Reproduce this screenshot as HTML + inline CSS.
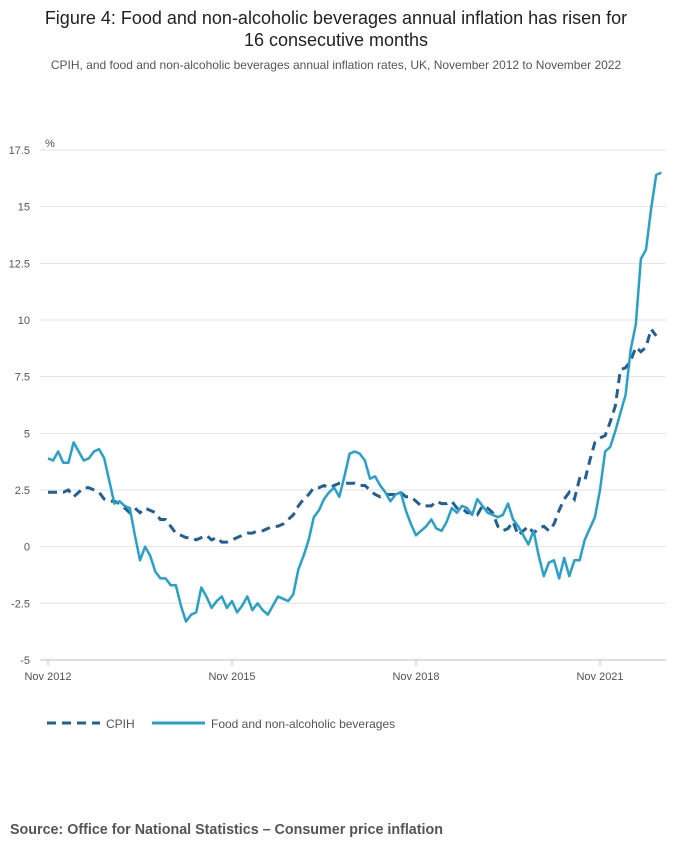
<!DOCTYPE html>
<html><head><meta charset="utf-8"><style>
body{margin:0;width:700px;height:857px;background:#fff;font-family:"Liberation Sans",sans-serif;overflow:hidden}
svg{position:absolute;left:0;top:0}
</style></head><body>
<svg width="700" height="857">
<text x="336" y="24" text-anchor="middle" font-size="18" fill="#222">Figure 4: Food and non-alcoholic beverages annual inflation has risen for</text>
<text x="336" y="46" text-anchor="middle" font-size="18" fill="#222">16 consecutive months</text>
<text x="336" y="69" text-anchor="middle" font-size="12" fill="#555">CPIH, and food and non-alcoholic beverages annual inflation rates, UK, November 2012 to November 2022</text>
<text x="45" y="147" font-size="11" fill="#555">%</text>
<g id="grid"></g><g id="series"></g>
<g transform="translate(47,723)">
<line x1="0" y1="0" x2="53" y2="0" stroke="#206095" stroke-width="3" stroke-dasharray="9,6"/>
<text x="59" y="5" font-size="12" fill="#555">CPIH</text>
<line x1="105" y1="0" x2="158" y2="0" stroke="#27a0cc" stroke-width="3"/>
<text x="164" y="5" font-size="12" fill="#555">Food and non-alcoholic beverages</text>
</g>
<text x="10" y="834" font-size="14.3" font-weight="bold" fill="#555">Source: Office for National Statistics – Consumer price inflation</text>
</svg>
<script>
const yTicks=[-5,-2.5,0,2.5,5,7.5,10,12.5,15,17.5];
const yTickLabels=["-5","-2.5","0","2.5","5","7.5","10","12.5","15","17.5"];
const xTickIdx=[0,36,72,108];
const xTickLabels=["Nov 2012","Nov 2015","Nov 2018","Nov 2021"];
const food=[3.9,3.8,4.2,3.7,3.7,4.6,4.2,3.8,3.9,4.2,4.3,3.9,2.9,1.9,2.0,1.8,1.7,0.5,-0.6,0.0,-0.4,-1.1,-1.4,-1.4,-1.7,-1.7,-2.6,-3.3,-3.0,-2.9,-1.8,-2.2,-2.7,-2.4,-2.2,-2.7,-2.4,
-2.9,-2.6,-2.2,-2.8,-2.5,-2.8,-3.0,-2.6,-2.2,-2.3,-2.4,-2.1,-1.0,-0.4,0.3,1.3,1.6,2.1,2.4,2.6,2.2,3.1,4.1,4.2,4.1,3.8,3.0,3.1,2.7,2.4,2.0,2.3,2.4,1.6,1.0,0.5,
0.7,0.9,1.2,0.8,0.7,1.1,1.7,1.5,1.8,1.7,1.4,2.1,1.8,1.5,1.4,1.3,1.4,1.9,1.2,0.9,0.5,0.1,0.7,-0.4,-1.3,-0.7,-0.6,-1.4,-0.5,-1.3,-0.6,-0.6,0.3,0.8,1.3,2.5,
4.2,4.4,5.1,5.9,6.7,8.7,9.8,12.7,13.1,14.9,16.4,16.5];
const cpih=[2.4,2.4,2.4,2.4,2.5,2.2,2.4,2.6,2.6,2.5,2.4,2.1,2.0,2.0,1.9,1.7,1.5,1.7,1.5,1.7,1.6,1.5,1.2,1.2,0.9,0.6,0.5,0.4,0.4,0.3,0.4,0.5,0.3,0.4,0.2,0.2,0.3,
0.4,0.5,0.6,0.6,0.7,0.7,0.8,0.9,0.9,1.0,1.2,1.4,1.8,2.1,2.3,2.6,2.6,2.7,2.6,2.7,2.8,2.8,2.8,2.8,2.7,2.7,2.5,2.3,2.2,2.3,2.3,2.3,2.4,2.2,2.2,
2.0,1.8,1.8,1.8,2.0,1.9,1.9,2.0,1.7,1.7,1.5,1.5,1.4,1.8,1.7,1.5,0.9,0.7,0.8,1.1,0.5,0.7,0.9,0.6,0.8,0.9,0.7,1.0,1.6,2.1,2.4,2.1,3.0,2.9,3.8,4.6,
4.8,4.9,5.5,6.2,7.8,7.9,8.2,8.8,8.6,8.8,9.6,9.3];
const NS="http://www.w3.org/2000/svg";
const xS=i=>48+i*184/36;
const yS=v=>660-(v+5)*510/22.5;
const grid=document.getElementById('grid'),ser=document.getElementById('series');
function mk(tag,attrs,parent){const e=document.createElementNS(NS,tag);for(const k in attrs)e.setAttribute(k,attrs[k]);parent.appendChild(e);return e;}
yTicks.forEach((v,i)=>{
  if(v>-5){const l=mk('line',{x1:40,x2:666,y1:yS(v),y2:yS(v),stroke:'#e2e2e2','stroke-width':1},grid);
  
  }
  const t=mk('text',{x:30,y:yS(v)+4,'text-anchor':'end','font-size':11,fill:'#555'},grid);
  t.textContent=yTickLabels[i];
  
  
});
const ax=mk('line',{x1:40,x2:666,y1:660,y2:660,stroke:'#b3c6d9','stroke-width':1},grid);


xTickIdx.forEach((idx,i)=>{
  const tk=mk('line',{x1:xS(idx),x2:xS(idx),y1:660,y2:666,stroke:'#b3c6d9'},grid);
  
  
  const t=mk('text',{x:xS(idx),y:680,'text-anchor':'middle','font-size':11,fill:'#555'},grid);
  t.textContent=xTickLabels[i];
  
  
});
const pts=a=>a.map((v,i)=>xS(i).toFixed(1)+','+yS(v).toFixed(1)).join(' ');
const c=mk('polyline',{points:pts(cpih),fill:'none',stroke:'#206095','stroke-width':3,'stroke-dasharray':'9,6'},ser);


const f=mk('polyline',{points:pts(food),fill:'none',stroke:'#27a0cc','stroke-width':2.5,'stroke-linejoin':'round'},ser);


</script>
</body></html>
